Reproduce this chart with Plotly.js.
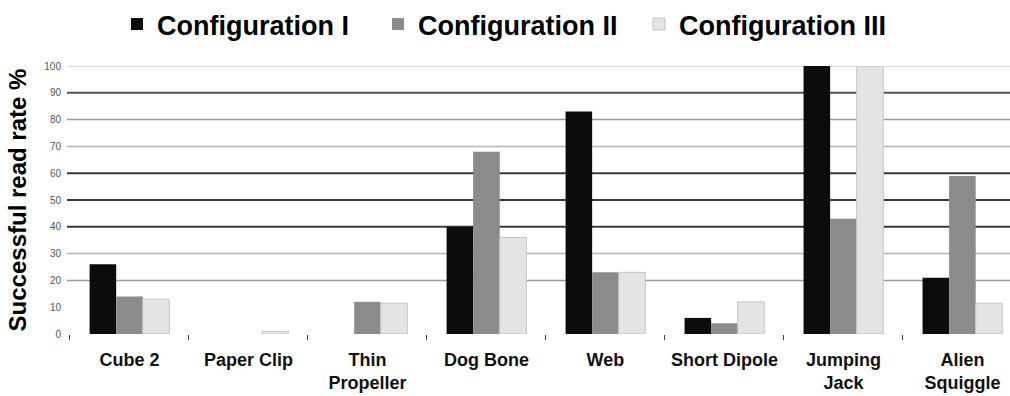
<!DOCTYPE html>
<html>
<head>
<meta charset="utf-8">
<script src="https://cdn.plot.ly/plotly-3.0.1.min.js"></script>
<style>
  html, body { margin: 0; padding: 0; background: #ffffff; }
  #chart { width: 1010px; height: 396px; }
</style>
</head>
<body>
<div id="chart"></div>
<script>
// ---- data ----
var categories = ['Cube 2', 'Paper Clip', 'Thin<br>Propeller', 'Dog Bone', 'Web', 'Short Dipole', 'Jumping<br>Jack', 'Alien<br>Squiggle'];
var seriesNames = ['Configuration I', 'Configuration II', 'Configuration III'];
var configI   = [26, 0, 0, 40, 83, 6, 100, 21];
var configII  = [14, 0, 12, 68, 23, 4, 43, 59];
var configIII = [13, 1, 11.5, 36, 23, 12, 100, 11.5];
var yTickValues = [0, 10, 20, 30, 40, 50, 60, 70, 80, 90, 100];
var gridValues  = [20, 30, 40, 50, 60, 70, 80, 90, 100];

// ---- styling ----
var FONT = 'Liberation Sans, Arial, sans-serif';
var fills = ['#0c0c0c', '#8a8b8d', '#e3e4e6'];
var edges = ['#0c0c0c', '#8a8b8d', '#c4c5c7'];
var edgeWidths = [0, 0, 1];
var gridStyle = {20: ['#9a9a9a', 1.5], 30: ['#b4b4b4', 1.5], 40: ['#3a3a3a', 2], 50: ['#3a3a3a', 2],
                 60: ['#3a3a3a', 2], 70: ['#b4b4b4', 1.5], 80: ['#9a9a9a', 1.5], 90: ['#555555', 2], 100: ['#cfcfcf', 1.5]};

var seriesValues = [configI, configII, configIII];
var traces = seriesValues.map(function (vals, i) {
  return {
    type: 'bar',
    name: seriesNames[i],
    x: categories,
    y: vals,
    marker: { color: fills[i], line: { color: edges[i], width: edgeWidths[i] } },
    hoverinfo: 'x+y+name'
  };
});

var shapes = gridValues.map(function (v) {
  var st = gridStyle[v];
  return {
    type: 'line', xref: 'paper', yref: 'y', x0: 0, x1: 1, y0: v, y1: v,
    line: { color: st[0], width: st[1] }, layer: 'below'
  };
});

var layout = {
  width: 1010,
  height: 396,
  margin: { l: 67, r: 0, t: 63, b: 62, pad: 0 },
  paper_bgcolor: '#ffffff',
  plot_bgcolor: '#ffffff',
  barmode: 'group',
  bargap: 0.33,
  bargroupgap: 0,
  showlegend: true,
  legend: {
    orientation: 'h',
    x: 0.053, xanchor: 'left',
    y: 1.155, yanchor: 'middle',
    font: { family: FONT, size: 27, color: '#000000', weight: 'bold' },
    entrywidth: 216,
    traceorder: 'normal',
    bgcolor: 'rgba(0,0,0,0)',
    borderwidth: 0
  },
  xaxis: {
    type: 'category',
    range: [-0.525, 7.4],
    tickson: 'boundaries',
    ticks: 'outside',
    ticklen: 5,
    tickwidth: 1,
    tickcolor: '#444444',
    tickangle: 0,
    ticklabelstandoff: 13,
    showgrid: false,
    showline: false,
    zeroline: false,
    automargin: false,
    tickfont: { family: FONT, size: 18, color: '#111111', weight: 'bold' },
    fixedrange: true
  },
  yaxis: {
    range: [0, 100],
    tickmode: 'array',
    tickvals: yTickValues,
    ticktext: yTickValues.map(String),
    showgrid: false,
    zeroline: false,
    showline: false,
    ticks: '',
    ticklabelstandoff: 5,
    tickfont: { family: FONT, size: 10, color: '#555555' },
    title: {
      text: 'Successful read rate %',
      font: { family: FONT, size: 24, color: '#000000', weight: 'bold' },
      standoff: 10
    },
    fixedrange: true
  },
  shapes: shapes
};

Plotly.newPlot('chart', traces, layout, { displayModeBar: false, staticPlot: true });
</script>
</body>
</html>
